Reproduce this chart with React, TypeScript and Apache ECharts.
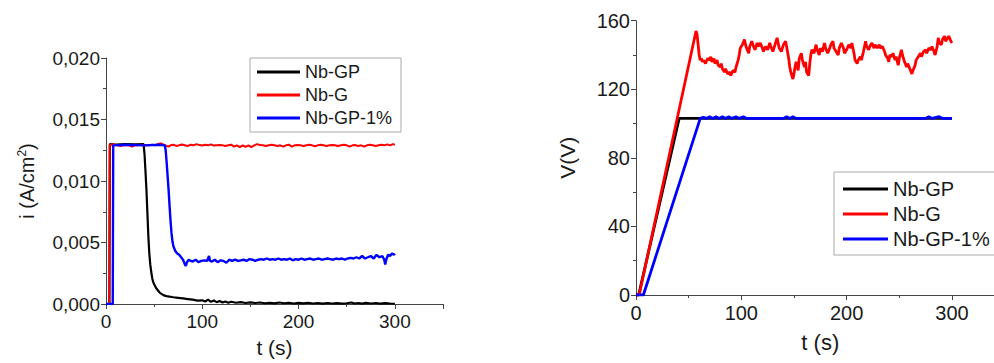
import React, { useEffect, useRef } from "react";
import * as echarts from "echarts";

const seriesNames = ["Nb-GP", "Nb-G", "Nb-GP-1%"];
const seriesColors = ["#000000", "#ff0000", "#0000ff"];

const currentTicks = [0, 0.005, 0.01, 0.015, 0.02];
const voltageTicks = [0, 40, 80, 120, 160];
const timeTicks = [0, 100, 200, 300];

// Current density (A/cm2) vs time (s)
const nbGpCurrent: number[][] = [
  [0, 0], [3.5, 0], [4, 0.013], [10, 0.01295], [20, 0.013], [30, 0.01298], [39, 0.013],
  [40, 0.0122], [41, 0.0108], [42, 0.0093], [43, 0.0074], [44, 0.0055], [45, 0.0041],
  [46, 0.0032], [47, 0.0026], [48, 0.0021], [49, 0.0018], [50, 0.0016], [52, 0.0013],
  [54, 0.0011], [56, 0.0009], [58, 0.0008], [60, 0.0007], [63, 0.00064], [66, 0.0006],
  [70, 0.00055], [75, 0.0005], [80, 0.00045], [85, 0.0004], [90, 0.00035], [95, 0.00028],
  [100, 0.0003], [103, 0.0002], [106, 0.00035], [109, 0.00018], [112, 0.00028], [115, 0.00015],
  [118, 0.00025], [121, 0.00012], [124, 0.0002], [127, 0.0001], [130, 0.00018], [135, 0.0001],
  [140, 0.00015], [145, 0.00008], [150, 0.00013], [155, 0.00008], [160, 0.00012], [165, 0.00006],
  [170, 0.0001], [175, 0.00005], [180, 0.00012], [185, 0.00006], [190, 0.0001], [195, 0.00004],
  [200, 0.00009], [205, 0.00005], [210, 0.0001], [215, 0.00004], [220, 0.00008], [225, 0.00003],
  [230, 0.00008], [235, 0.00004], [240, 0.00007], [245, 0.00003], [250, 0.00006], [255, 0.00012],
  [258, 0.00004], [262, 0.00008], [266, 0.00003], [270, 0.00009], [275, 0.00004], [280, 0.00008],
  [285, 0.00003], [290, 0.00007], [295, 0.00004], [300, 0.00002],
];

const nbGCurrent: number[][] = [
  [0, 0], [3.5, 0], [3.8, 0.0129], [6, 0.013], [9, 0.01295], [12, 0.0129], [15, 0.01285],
  [18, 0.0129], [21, 0.01292], [24, 0.0129], [27, 0.0128], [30, 0.01292], [33, 0.0129],
  [36, 0.01295], [39, 0.0129], [42, 0.01292], [45, 0.0129], [48, 0.01295], [51, 0.0129],
  [54, 0.013], [57, 0.01305], [60, 0.01295], [63, 0.01285], [65, 0.0128], [67, 0.0129],
  [70, 0.01295], [73, 0.01285], [76, 0.0129], [79, 0.01297], [82, 0.0129], [85, 0.01285],
  [88, 0.01295], [91, 0.0129], [94, 0.013], [97, 0.01292], [100, 0.01288], [103, 0.01295],
  [106, 0.0129], [109, 0.01298], [112, 0.01288], [115, 0.0129], [118, 0.01292], [121, 0.0129],
  [124, 0.01285], [127, 0.0129], [130, 0.01295], [133, 0.0128], [136, 0.0129], [139, 0.01275],
  [142, 0.0129], [145, 0.01278], [148, 0.0129], [151, 0.01275], [154, 0.0129], [157, 0.013],
  [160, 0.01292], [163, 0.0129], [166, 0.01285], [169, 0.0129], [172, 0.01295], [175, 0.0129],
  [178, 0.01285], [181, 0.0129], [184, 0.0128], [187, 0.0129], [190, 0.01295], [193, 0.0128],
  [196, 0.0129], [199, 0.01292], [202, 0.0129], [205, 0.01285], [208, 0.0129], [211, 0.01295],
  [214, 0.0129], [217, 0.01282], [220, 0.0129], [223, 0.01295], [226, 0.0129], [229, 0.01285],
  [232, 0.0129], [235, 0.01292], [238, 0.0129], [241, 0.01285], [244, 0.0129], [247, 0.01295],
  [250, 0.0129], [253, 0.0128], [256, 0.0129], [259, 0.01292], [262, 0.01285], [265, 0.0129],
  [268, 0.0128], [271, 0.0129], [274, 0.01295], [277, 0.0129], [280, 0.01285], [283, 0.0129],
  [286, 0.01295], [289, 0.0129], [292, 0.01298], [295, 0.0129], [298, 0.013], [300, 0.01295],
];

const nbGp1Current: number[][] = [
  [0, 0], [7, 0], [7.5, 0.0129], [20, 0.01295], [40, 0.0129], [55, 0.01295], [61, 0.0129],
  [62, 0.0125], [63, 0.0115], [64, 0.0104], [65, 0.0093], [66, 0.008], [67, 0.0068],
  [68, 0.0058], [69, 0.0051], [70, 0.0047], [72, 0.0043], [74, 0.0041], [76, 0.004],
  [78, 0.0038], [80, 0.0036], [82, 0.0032], [83, 0.0031], [84, 0.0034], [86, 0.0036],
  [88, 0.0035], [90, 0.00345], [93, 0.0036], [96, 0.0034], [99, 0.0035], [102, 0.00355],
  [105, 0.0035], [107, 0.0039], [108, 0.0035], [110, 0.00345], [113, 0.0036], [116, 0.0034],
  [119, 0.00355], [122, 0.0035], [125, 0.00335], [128, 0.0036], [131, 0.0035], [134, 0.0036],
  [137, 0.0035], [140, 0.00355], [143, 0.0036], [146, 0.0035], [149, 0.00365], [152, 0.0036],
  [155, 0.0035], [158, 0.0036], [161, 0.00365], [164, 0.0036], [167, 0.0037], [170, 0.0036],
  [173, 0.00365], [176, 0.0036], [179, 0.0037], [182, 0.0036], [185, 0.00365], [188, 0.0036],
  [191, 0.0037], [194, 0.00355], [197, 0.00365], [200, 0.0036], [203, 0.0037], [206, 0.0036],
  [209, 0.00365], [212, 0.0037], [215, 0.0036], [218, 0.00365], [221, 0.0037], [224, 0.0036],
  [227, 0.00365], [230, 0.0037], [233, 0.00365], [236, 0.0036], [239, 0.0037], [242, 0.00365],
  [245, 0.0037], [248, 0.0036], [251, 0.0037], [254, 0.00375], [257, 0.0037], [260, 0.0038],
  [263, 0.0037], [266, 0.0039], [269, 0.0037], [272, 0.0038], [275, 0.0039], [278, 0.0037],
  [281, 0.004], [284, 0.0038], [287, 0.0039], [289, 0.0036], [290, 0.0032], [291, 0.0036],
  [293, 0.004], [295, 0.0039], [297, 0.0041], [299, 0.004], [300, 0.0041],
];

// Voltage (V) vs time (s)
const nbGpVoltage: number[][] = [[0, 0], [2.5, 0], [41, 103], [300, 103]];

const nbGVoltage: number[][] = [
  [0, 0], [3, 0], [57, 154], [58, 152], [59, 146], [60, 140], [61, 137], [62, 138], [63, 136],
  [64, 137], [66, 135], [68, 138], [70, 137], [71, 139], [72, 136], [74, 138], [75, 135],
  [77, 137], [78, 134], [80, 133], [81, 135], [82, 132], [84, 130], [85, 132], [87, 129],
  [89, 130], [90, 128], [92, 131], [94, 130], [95, 133], [97, 137], [98, 140], [99, 144],
  [101, 146], [103, 149], [104, 146], [105, 144], [107, 141], [108, 145], [110, 148], [111, 146],
  [113, 143], [115, 147], [116, 145], [118, 147], [120, 144], [121, 142], [123, 145], [125, 143],
  [127, 147], [128, 145], [130, 142], [132, 146], [134, 150], [135, 147], [136, 144], [138, 142],
  [140, 146], [142, 148], [143, 145], [145, 138], [146, 133], [147, 130], [149, 126], [150, 129],
  [151, 133], [152, 136], [154, 131], [155, 138], [157, 141], [158, 137], [160, 133], [161, 136],
  [162, 130], [164, 128], [165, 135], [166, 140], [167, 143], [169, 141], [171, 146], [172, 143],
  [174, 140], [175, 144], [177, 142], [179, 147], [180, 144], [182, 141], [184, 144], [185, 146],
  [187, 148], [188, 144], [190, 142], [192, 140], [193, 144], [195, 147], [197, 144], [198, 141],
  [200, 143], [202, 146], [204, 144], [205, 147], [207, 141], [208, 137], [210, 135], [211, 137],
  [213, 139], [214, 137], [216, 142], [218, 148], [219, 145], [221, 143], [222, 145], [224, 147],
  [226, 144], [227, 146], [229, 144], [231, 146], [232, 144], [234, 145], [236, 142], [237, 140],
  [239, 138], [240, 136], [241, 140], [243, 139], [244, 141], [246, 137], [247, 139], [249, 134],
  [250, 138], [252, 143], [253, 140], [255, 136], [257, 133], [258, 135], [260, 132], [262, 129],
  [263, 131], [265, 134], [266, 137], [268, 139], [270, 141], [271, 139], [273, 142], [275, 143],
  [276, 141], [278, 144], [280, 143], [281, 145], [283, 142], [284, 140], [286, 145], [287, 150],
  [288, 147], [290, 146], [291, 149], [293, 151], [294, 148], [296, 150], [297, 151], [299, 148],
  [300, 147],
];

const nbGp1Voltage: number[][] = [
  [0, 0], [7, 0], [61, 103], [64, 103.6], [67, 103], [70, 104], [73, 103], [76, 104], [79, 103],
  [82, 104], [85, 103], [88, 104], [91, 103], [95, 104], [98, 103], [102, 104], [105, 103],
  [140, 103], [143, 104], [146, 103], [149, 104], [152, 103], [275, 103], [278, 104], [281, 103],
  [288, 104], [291, 103], [300, 103],
];

const FONT = "'Liberation Sans', Arial, Helvetica, sans-serif";
const AXIS_COLOR = "#444";
const TEXT_COLOR = "#1a1a1a";

export default function App() {
  const ref = useRef<HTMLDivElement>(null);

  useEffect(() => {
    if (!ref.current) return;
    const chart = echarts.init(ref.current, undefined, { renderer: "svg" });

    const axisCommon = (fontSize: number) => ({
      axisLine: { show: true, lineStyle: { color: AXIS_COLOR, width: 1 } },
      axisTick: { show: true, inside: false, length: 5, lineStyle: { color: AXIS_COLOR } },
      minorTick: { show: true, splitNumber: 2, length: 3, lineStyle: { color: AXIS_COLOR } },
      splitLine: { show: false },
      axisLabel: { color: TEXT_COLOR, fontSize, fontFamily: FONT, margin: 6 },
      nameTextStyle: { color: TEXT_COLOR, fontSize: fontSize + 2, fontFamily: FONT },
    });

    const datasets = [
      [nbGpCurrent, nbGCurrent, nbGp1Current],
      [nbGpVoltage, nbGVoltage, nbGp1Voltage],
    ];
    const widths = [[2.2, 2, 2.4], [2.8, 2.8, 2.8]];

    const series: any[] = [];
    datasets.forEach((group, gi) => {
      group.forEach((data, si) => {
        series.push({
          type: "line",
          name: seriesNames[si],
          xAxisIndex: gi,
          yAxisIndex: gi,
          data,
          symbol: "none",
          showSymbol: false,
          lineStyle: { color: seriesColors[si], width: widths[gi][si] },
          itemStyle: { color: seriesColors[si] },
          z: 2 + si,
        });
      });
    });

    const legendData = seriesNames.map((name) => ({ name, icon: "rect" }));

    chart.setOption({
      animation: false,
      backgroundColor: "#ffffff",
      textStyle: { fontFamily: FONT },
      grid: [
        { left: 106, top: 58, width: 337, height: 250 },
        { left: 636, top: 20.7, width: 368.6, height: 274.3 },
      ],
      xAxis: [
        {
          ...axisCommon(19),
          type: "value",
          gridIndex: 0,
          min: 0,
          max: 350,
          interval: 100,
          name: "t (s)",
          nameLocation: "middle",
          nameGap: 33,
          axisLabel: {
            color: TEXT_COLOR, fontSize: 19, fontFamily: FONT, margin: 8,
            formatter: (v: number) => (timeTicks.includes(v) ? String(v) : ""),
          },
        },
        {
          ...axisCommon(20),
          type: "value",
          gridIndex: 1,
          min: 0,
          max: 350,
          interval: 100,
          name: "t (s)",
          nameLocation: "middle",
          nameGap: 36,
          axisLabel: {
            color: TEXT_COLOR, fontSize: 20, fontFamily: FONT, margin: 8,
            formatter: (v: number) => (timeTicks.includes(v) ? String(v) : ""),
          },
        },
      ],
      yAxis: [
        {
          ...axisCommon(19),
          type: "value",
          gridIndex: 0,
          min: 0,
          max: 0.02,
          interval: 0.005,
          name: "i (A/cm{sup|2})",
          nameLocation: "middle",
          nameRotate: 90,
          nameGap: 68,
          nameTextStyle: {
            color: TEXT_COLOR, fontSize: 20, fontFamily: FONT, lineHeight: 22,
            rich: { sup: { fontSize: 12, fontFamily: FONT, color: TEXT_COLOR, verticalAlign: "top", lineHeight: 22 } },
          },
          axisLabel: {
            color: TEXT_COLOR, fontSize: 19, fontFamily: FONT, margin: 6,
            formatter: (v: number) => {
              const hit = currentTicks.find((t) => Math.abs(t - v) < 1e-9);
              return hit === undefined ? "" : hit.toFixed(3).replace(".", ",");
            },
          },
        },
        {
          ...axisCommon(20),
          type: "value",
          gridIndex: 1,
          min: 0,
          max: 160,
          interval: 40,
          name: "V(V)",
          nameLocation: "middle",
          nameRotate: 90,
          nameGap: 58,
          nameTextStyle: { color: TEXT_COLOR, fontSize: 21, fontFamily: FONT },
          axisLabel: {
            color: TEXT_COLOR, fontSize: 20, fontFamily: FONT, margin: 6,
            formatter: (v: number) => (voltageTicks.includes(v) ? String(v) : ""),
          },
        },
      ],
      legend: [
        {
          orient: "vertical",
          left: 250,
          top: 58,
          data: legendData,
          itemWidth: 43,
          itemHeight: 3,
          itemGap: 5,
          padding: [5, 9, 5, 7],
          borderColor: "#aaa",
          borderWidth: 1,
          selectedMode: false,
          textStyle: { color: TEXT_COLOR, fontSize: 18, fontFamily: FONT },
        },
        {
          orient: "vertical",
          left: 834,
          top: 172,
          data: legendData,
          itemWidth: 45,
          itemHeight: 3,
          itemGap: 5,
          padding: [7, 9, 6, 9],
          borderColor: "#aaa",
          borderWidth: 1,
          selectedMode: false,
          textStyle: { color: TEXT_COLOR, fontSize: 20, fontFamily: FONT },
        },
      ],
      series,
    });

    return () => chart.dispose();
  }, []);

  return (
    <div
      style={{
        position: "fixed",
        left: 0,
        top: 0,
        width: 994,
        height: 363,
        overflow: "hidden",
        background: "#fff",
      }}
    >
      <div ref={ref} style={{ width: 1010, height: 363 }} />
    </div>
  );
}
